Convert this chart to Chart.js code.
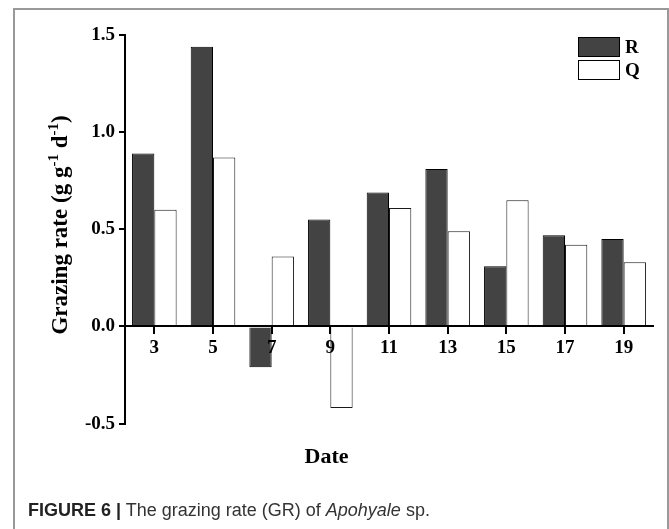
<!DOCTYPE html>
<html>
<head>
<meta charset="utf-8">
<script src="https://cdn.jsdelivr.net/npm/chart.js@4.4.1/dist/chart.umd.min.js"></script>
<style>
  body { margin: 0; background: #fff; }
  #wrap { position: relative; width: 669px; height: 529px; overflow: hidden; }
  #frame { position: absolute; left: 13px; top: 8px; width: 652px; height: 560px; border: 2px solid #999; }
  canvas { position: absolute; left: 0; top: 0; }
  #caption { position: absolute; left: 28px; top: 500px; font-family: "Liberation Sans", Arial, sans-serif; font-size: 18px; color: #333; white-space: nowrap; }
  #caption b { color: #222; }
</style>
</head>
<body>
<div id="wrap">
  <canvas id="myChart" width="669" height="529"></canvas>
  <div id="frame"></div>
  <div id="caption"><b>FIGURE 6 |</b> The grazing rate (GR) of <i>Apohyale</i> sp.</div>
</div>
<script>
// data
const dates = ["3", "5", "7", "9", "11", "13", "15", "17", "19"];
const rValues = [0.89, 1.44, -0.21, 0.55, 0.69, 0.81, 0.31, 0.47, 0.45];
const qValues = [0.60, 0.87, 0.36, -0.42, 0.61, 0.49, 0.65, 0.42, 0.33];
const yTicks = [-0.5, 0.0, 0.5, 1.0, 1.5];

const serif = "'Liberation Serif', 'Times New Roman', 'DejaVu Serif', serif";

// legend drawn inside the plot, top right
const boxLegend = {
  id: "boxLegend",
  afterDraw(chart) {
    const c = chart.ctx;
    c.save();
    chart.data.datasets.forEach((ds, i) => {
      const y = 37 + i * 23;
      c.fillStyle = ds.backgroundColor;
      c.fillRect(578, y, 42, 20);
      c.strokeStyle = "#000";
      c.lineWidth = 1;
      c.strokeRect(578.5, y + 0.5, 41, 19);
      c.fillStyle = "#000";
      c.font = "bold 19px " + serif;
      c.textBaseline = "middle";
      c.fillText(ds.label, 625, y + 11);
    });
    c.restore();
  },
};

// y title with real superscripts
const yTitle = {
  id: "yTitle",
  afterDraw(chart) {
    const c = chart.ctx;
    const parts = [
      ["Grazing rate (g g", false],
      ["-1", true],
      [" d", false],
      ["-1", true],
      [")", false],
    ];
    const big = "bold 23px " + serif;
    const small = "bold 15px " + serif;
    c.save();
    let total = 0;
    parts.forEach(([t, sup]) => {
      c.font = sup ? small : big;
      total += c.measureText(t).width;
    });
    c.translate(67, 225);
    c.rotate(-Math.PI / 2);
    c.fillStyle = "#000";
    c.textBaseline = "alphabetic";
    let x = -total / 2;
    parts.forEach(([t, sup]) => {
      c.font = sup ? small : big;
      c.fillText(t, x, sup ? -9 : 0);
      x += c.measureText(t).width;
    });
    c.restore();
  },
};

const ctx = document.getElementById("myChart").getContext("2d");
const chart = new Chart(ctx, {
  type: "bar",
  data: {
    labels: dates,
    datasets: [
      {
        label: "R",
        data: rValues,
        backgroundColor: "#434343",
        borderColor: "#000",
        borderWidth: 1,
      },
      {
        label: "Q",
        data: qValues,
        backgroundColor: "#ffffff",
        borderColor: "#1a1a1a",
        borderWidth: 1,
      },
    ],
  },
  options: {
    responsive: false,
    animation: false,
    categoryPercentage: 0.76,
    barPercentage: 1.0,
    layout: { padding: { left: 0, right: 16, top: 35, bottom: 58 } },
    plugins: {
      legend: { display: false },
      tooltip: { enabled: false },
      title: {
        display: true,
        position: "bottom",
        text: "Date",
        color: "#000",
        font: { family: serif, size: 22, weight: "bold" },
        padding: { top: 21, bottom: 0 },
      },
    },
    scales: {
      x: {
        position: { y: 0 },
        offset: true,
        grid: { z: 1, drawOnChartArea: false, drawTicks: true, tickLength: 7, offset: false, color: "#000", lineWidth: 2 },
        border: { z: 1, color: "#000", width: 2 },
        ticks: { z: 1, color: "#000", padding: 3, font: { family: serif, size: 19, weight: "bold" } },
      },
      y: {
        min: -0.5,
        max: 1.5,
        afterBuildTicks: (s) => { s.ticks = yTicks.map((v) => ({ value: v })); },
        afterFit: (s) => { s.width = 125; },
        grid: { drawOnChartArea: false, drawTicks: true, tickLength: 6, color: "#000", lineWidth: 2 },
        border: { color: "#000", width: 2 },
        ticks: {
          color: "#000",
          padding: 4,
          font: { family: serif, size: 19, weight: "bold" },
          callback: (v) => Number(v).toFixed(1),
        },
      },
    },
  },
  plugins: [boxLegend, yTitle],
});
</script>
</body>
</html>
